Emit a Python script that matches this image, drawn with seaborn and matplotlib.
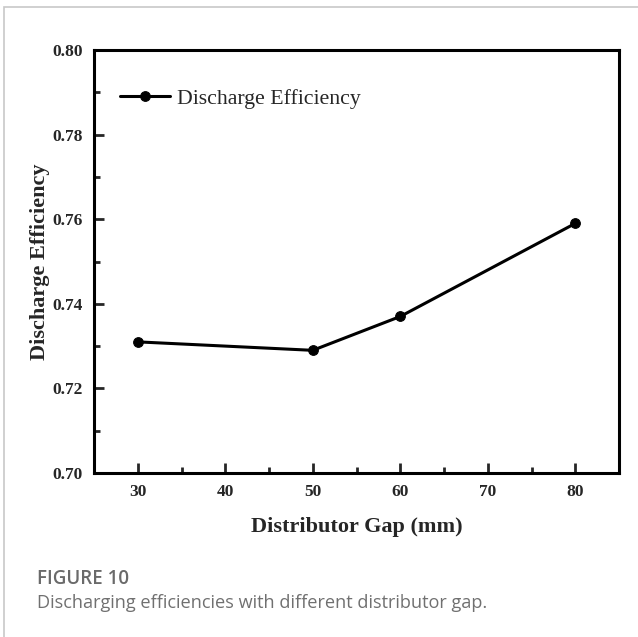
import matplotlib
matplotlib.use("Agg")
import matplotlib.pyplot as plt
import seaborn as sns
import pandas as pd
from matplotlib.ticker import MultipleLocator, FormatStrFormatter
from matplotlib.patches import Rectangle

gap = [30, 50, 60, 80]
eff = [0.731, 0.729, 0.737, 0.759]
series_name = "Discharge Efficiency"
xlabel = "Distributor Gap (mm)"
ylabel = "Discharge Efficiency"
fig_label = "FIGURE 10"
caption = "Discharging efficiencies with different distributor gap."

df = pd.DataFrame({"gap": gap, "eff": eff, "series": series_name})

sns.set_style("white")
plt.rcParams["font.family"] = ["Liberation Serif", "DejaVu Serif"]

W, H = 638, 637
fig = plt.figure(figsize=(W/100, H/100), dpi=100)
L, R, T, B = 94, 619, 50, 473
ax = fig.add_axes([L/W, 1-B/H, (R-L)/W, (B-T)/H])

sns.lineplot(data=df, x="gap", y="eff", hue="series", palette=["black"],
             marker="o", markersize=7, linewidth=2.2, markeredgecolor="black",
             ax=ax)

ax.set_xlim(25, 85)
ax.set_ylim(0.70, 0.80)
ax.xaxis.set_major_locator(MultipleLocator(10))
ax.xaxis.set_minor_locator(MultipleLocator(5))
ax.yaxis.set_major_locator(MultipleLocator(0.02))
ax.yaxis.set_minor_locator(MultipleLocator(0.01))
ax.yaxis.set_major_formatter(FormatStrFormatter("%.2f"))
ax.tick_params(axis="both", which="major", direction="in", length=7, width=2,
               labelsize=12.5, pad=8, top=False, right=False, left=True, bottom=True)
ax.tick_params(axis="both", which="minor", direction="in", length=4, width=2,
               top=False, right=False, left=True, bottom=True)
for lab in ax.get_xticklabels() + ax.get_yticklabels():
    lab.set_fontweight("bold")
for s in ax.spines.values():
    s.set_linewidth(2.2)
    s.set_color("black")

ax.set_xlabel(xlabel, fontsize=16, fontweight="bold", labelpad=12)
ax.set_ylabel(ylabel, fontsize=16, fontweight="bold", labelpad=2)

leg = ax.legend(loc="upper left", frameon=False, fontsize=15.7,
                bbox_to_anchor=(0.0, 0.97), handlelength=2.3, handletextpad=0.3,
                borderaxespad=0.8)
for h in leg.get_lines():
    h.set_linewidth(2.2)

# outer figure frame
fig.patches.append(Rectangle((4/W, -0.1), 1.2, 1 - 7/H + 0.1,
                             transform=fig.transFigure, fill=False,
                             edgecolor="#c8c8c8", linewidth=1.2))

fig.text(37/W, 1-579/H, fig_label, fontsize=13.5, color="#6a6a6a", fontweight="semibold",
         family=["Open Sans", "DejaVu Sans"], va="center", ha="left")
fig.text(37/W, 1-603/H, caption, fontsize=13.1, color="#707070",
         family=["Open Sans", "DejaVu Sans"], va="center", ha="left")

fig.savefig("out.png", dpi=100)
